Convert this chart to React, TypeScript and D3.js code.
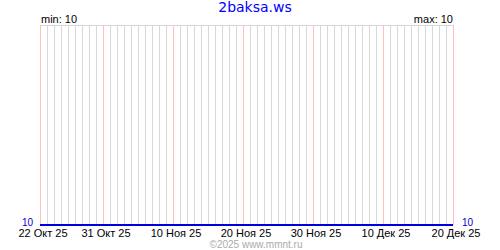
import React from "react";
import * as d3 from "d3";

const title = "2baksa.ws";
const footer = "©2025 www.mmnt.ru";
const startDate = "2025-10-22";
const endDate = "2025-12-20";
const tickDates = ["2025-10-22", "2025-10-31", "2025-11-10", "2025-11-20", "2025-11-30", "2025-12-10", "2025-12-20"];
const tickLabels = ["22 Окт 25", "31 Окт 25", "10 Ноя 25", "20 Ноя 25", "30 Ноя 25", "10 Дек 25", "20 Дек 25"];
const values = [
  10, 10, 10, 10, 10, 10, 10, 10, 10, 10,
  10, 10, 10, 10, 10, 10, 10, 10, 10, 10,
  10, 10, 10, 10, 10, 10, 10, 10, 10, 10,
  10, 10, 10, 10, 10, 10, 10, 10, 10, 10,
  10, 10, 10, 10, 10, 10, 10, 10, 10, 10,
  10, 10, 10, 10, 10, 10, 10, 10, 10, 10,
];

const parse = d3.utcParse("%Y-%m-%d");

export default function App() {
  const W = 500, H = 250;
  const left = 40, right = 453, top = 25, bottom = 225;
  const x = d3.scaleUtc().domain([parse(startDate)!, parse(endDate)!]).range([left, right]);
  const minV = d3.min(values)!;
  const maxV = d3.max(values)!;
  const y = d3.scaleLinear().domain([minV, maxV === minV ? minV + 1 : maxV]).range([bottom, top]);
  const days = d3.utcDay.range(parse(startDate)!, d3.utcDay.offset(parse(endDate)!, 1));
  const ticks = tickDates.map((d) => parse(d)!);
  const data = days.map((d, i) => ({ d, v: values[i] ?? values[values.length - 1] }));
  const line = d3.line<{ d: Date; v: number }>().x((p) => x(p.d)).y((p) => y(p.v));
  const font = "'Liberation Sans', Arial, sans-serif";
  const titleFont = "'DejaVu Sans', Verdana, sans-serif";
  return (
    <svg width={W} height={H} style={{ position: "absolute", left: 0, top: 0, background: "#fff" }} shapeRendering="crispEdges">
      <rect x={0} y={0} width={W} height={H} fill="#fff" />
      {days.map((d, i) => (
        <line key={i} x1={Math.round(x(d)) + 0.5} x2={Math.round(x(d)) + 0.5} y1={top} y2={bottom} stroke="#d8d8d8" />
      ))}
      {ticks.map((d, i) => (
        <line key={"t" + i} x1={Math.round(x(d)) + 0.5} x2={Math.round(x(d)) + 0.5} y1={top} y2={bottom} stroke="#ffc0c0" />
      ))}
      <line x1={left} x2={right + 1} y1={top + 0.5} y2={top + 0.5} stroke="#d8d8d8" />
      <path d={line(data) || ""} fill="none" stroke="#0000dd" strokeWidth={2} />
      <text x={255} y={12} textAnchor="middle" fontFamily={titleFont} fontSize={14} fill="#0000ff">{title}</text>
      <text x={41} y={23} fontFamily={font} fontSize={11} fill="#000">{"min: " + minV}</text>
      <text x={453} y={23} textAnchor="end" fontFamily={font} fontSize={11} fill="#000">{"max: " + maxV}</text>
      <text x={33} y={226} textAnchor="end" fontFamily={font} fontSize={10} fill="#0000cc">{String(minV)}</text>
      <text x={462} y={226} fontFamily={font} fontSize={10} fill="#0000cc">{String(minV)}</text>
      {ticks.map((d, i) => (
        <text key={"l" + i} x={x(d) + 3} y={237} textAnchor="middle" fontFamily={font} fontSize={11} fill="#000">{tickLabels[i]}</text>
      ))}
      <text x={256} y={248} textAnchor="middle" fontFamily={font} fontSize={10} fill="#aaaaaa">{footer}</text>
    </svg>
  );
}
